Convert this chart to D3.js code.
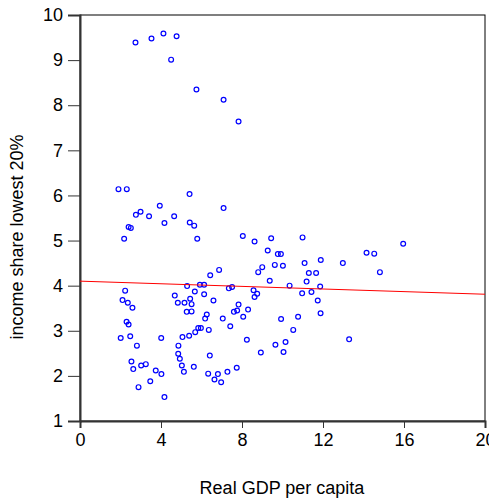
<!DOCTYPE html>
<html>
<head>
<meta charset="utf-8">
<script src="https://cdn.jsdelivr.net/npm/d3@7"></script>
<style>
  body { margin: 0; background: #fff; }
  text { font-family: "Liberation Sans", Arial, sans-serif; fill: #000; }
</style>
</head>
<body>
<div id="chart"></div>
<script>
// datos
const gdp = [2.74,3.53,4.12,4.77,4.50,5.75,7.09,7.83,1.90,2.31,5.41,3.94,7.09,2.76,2.99,3.41,4.65,2.40,2.51,4.17,
  5.42,5.64,2.18,5.79,8.04,8.62,9.44,9.27,9.77,9.92,6.87,6.43,9.62,9.00,8.80,9.37,2.23,2.10,2.36,2.59,
  4.68,4.83,5.16,5.29,5.44,5.51,5.27,5.51,5.67,5.92,6.13,6.13,6.59,6.26,6.18,5.84,5.97,5.69,6.36,5.39,
  5.06,4.86,4.85,4.93,5.03,5.13,5.62,6.41,6.33,6.64,6.81,6.97,7.28,7.05,7.42,7.35,7.51,7.60,7.76,7.83,
  8.06,8.30,8.57,8.62,8.75,7.74,8.24,8.93,9.65,2.01,2.48,2.30,2.40,2.81,2.54,2.63,3.02,3.25,2.89,3.47,
  3.74,4.02,4.01,4.17,10.99,10.02,11.09,11.89,11.30,11.66,11.19,10.35,11.86,10.97,11.43,11.74,11.88,10.77,9.93,10.53,
  10.15,10.05,12.98,13.29,14.15,14.53,14.81,15.96];
const share = [9.39,9.48,9.59,9.53,9.01,8.35,8.12,7.64,6.14,6.14,6.03,5.77,5.72,5.57,5.64,5.54,5.54,5.30,5.28,5.39,
  5.40,5.33,5.04,5.04,5.10,4.98,5.05,4.78,4.70,4.70,4.35,4.23,4.46,4.41,4.30,4.11,3.89,3.68,3.62,3.51,
  3.78,3.62,3.62,3.99,3.71,3.59,3.42,3.43,3.87,4.02,4.02,3.81,3.67,3.36,3.27,3.06,3.06,2.97,3.02,2.89,
  2.86,2.67,2.49,2.38,2.23,2.09,2.20,2.45,2.05,1.92,2.04,1.86,2.09,3.27,3.10,3.94,3.97,3.42,3.45,3.58,
  3.31,3.47,3.90,3.75,3.82,2.18,2.80,2.52,2.69,2.84,2.88,3.20,3.14,2.67,2.32,2.15,2.23,2.26,1.75,1.88,
  2.12,2.04,2.84,1.53,5.07,4.44,4.50,4.57,4.28,4.28,4.09,4.00,3.98,3.83,3.86,3.67,3.39,3.31,3.26,3.02,
  2.75,2.53,4.50,2.81,4.73,4.71,4.30,4.93];

const xTicks = [0, 4, 8, 12, 16, 20];
const yTicks = [1, 2, 3, 4, 5, 6, 7, 8, 9, 10];

// recta de regresión
const fitIntercept = 4.10;
const fitSlope = -0.0145;

const width = 489, height = 500;
const margin = {top: 15, right: 4, bottom: 79, left: 80};

const svg = d3.select("#chart").append("svg")
  .attr("width", width)
  .attr("height", height);

const x = d3.scaleLinear().domain([0, 20]).range([margin.left, width - margin.right]);
const y = d3.scaleLinear().domain([1, 10]).range([height - margin.bottom, margin.top]);

// marco
svg.append("rect")
  .attr("x", x(0)).attr("y", y(10))
  .attr("width", x(20) - x(0)).attr("height", y(1) - y(10))
  .attr("fill", "none").attr("stroke", "#000").attr("stroke-width", 1);

// ejes
const gx = svg.append("g")
  .attr("transform", `translate(0,${y(1)})`)
  .call(d3.axisBottom(x).tickValues(xTicks).tickSize(7).tickPadding(5));
const gy = svg.append("g")
  .attr("transform", `translate(${x(0)},0)`)
  .call(d3.axisLeft(y).tickValues(yTicks).tickSize(12).tickPadding(5));

[gx, gy].forEach(g => {
  g.select(".domain").attr("stroke", "#333").attr("stroke-width", 2);
  g.selectAll(".tick line").attr("stroke", "#333");
  g.selectAll(".tick text").style("font-size", "18px").attr("fill", "#000");
});

// puntos
svg.append("g")
  .selectAll("circle")
  .data(gdp.map((g, i) => ({g, s: share[i]})))
  .join("circle")
  .attr("cx", d => x(d.g))
  .attr("cy", d => y(d.s))
  .attr("r", 2.4)
  .attr("fill", "none")
  .attr("stroke", "#0000ff")
  .attr("stroke-width", 1.2);

// línea
svg.append("line")
  .attr("x1", x(0)).attr("y1", y(fitIntercept))
  .attr("x2", x(20)).attr("y2", y(fitIntercept + fitSlope * 20))
  .attr("stroke", "#ff0000").attr("stroke-width", 1);

// títulos
svg.append("text")
  .attr("x", 282).attr("y", 494)
  .attr("text-anchor", "middle")
  .style("font-size", "18px")
  .text("Real GDP per capita");

svg.append("text")
  .attr("transform", "translate(23,237) rotate(-90)")
  .attr("text-anchor", "middle")
  .style("font-size", "18px")
  .text("income share lowest 20%");
</script>
</body>
</html>
